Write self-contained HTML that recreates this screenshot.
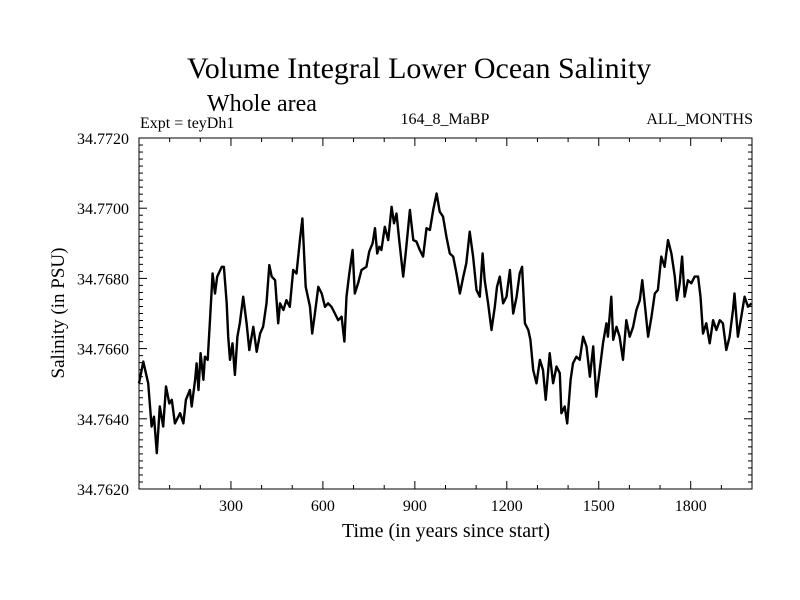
<!DOCTYPE html>
<html><head><meta charset="utf-8"><style>
html,body{margin:0;padding:0;background:#fff;}
svg{display:block;font-family:"Liberation Serif",serif;}
</style></head><body>
<svg id="chart" width="800" height="600" viewBox="0 0 800 600" xmlns="http://www.w3.org/2000/svg">
<rect width="800" height="600" fill="#fff"/>
<text x="187" y="78" font-size="30">Volume Integral Lower Ocean Salinity</text>
<text x="207" y="111" font-size="24">Whole area</text>
<text x="140" y="128" font-size="16">Expt = teyDh1</text>
<text x="445" y="124" font-size="16" text-anchor="middle">164_8_MaBP</text>
<text x="753" y="124" font-size="16" text-anchor="end">ALL_MONTHS</text>
<text transform="translate(64,313) rotate(-90)" font-size="19" text-anchor="middle">Salinity (in PSU)</text>
<text x="446" y="537" font-size="20" text-anchor="middle">Time (in years since start)</text>
<g id="axes"></g>
<g id="plot"></g>
</svg>
<script>
const years = [0,14,25,30,41,49,58,68,79,88,99,107,117,134,145,153,166,172,183,188,194,201,210,215,224,231,240,248,255,270,277,286,291,297,305,313,321,329,340,351,360,373,384,395,405,416,425,433,444,454,460,471,481,492,503,514,525,533,538,544,558,565,574,585,596,607,617,628,639,650,661,670,677,686,697,704,715,726,742,751,762,770,777,784,791,802,813,824,832,840,849,862,871,884,895,905,916,927,938,949,960,971,981,992,1003,1014,1025,1036,1047,1058,1068,1079,1090,1101,1112,1121,1128,1139,1150,1161,1168,1177,1188,1199,1210,1221,1232,1242,1250,1259,1270,1277,1286,1297,1308,1318,1327,1340,1351,1362,1373,1378,1389,1397,1408,1416,1427,1438,1449,1460,1471,1482,1492,1503,1514,1525,1530,1541,1547,1558,1568,1579,1590,1601,1612,1623,1634,1642,1650,1661,1672,1683,1693,1704,1715,1726,1737,1748,1755,1764,1772,1780,1791,1802,1813,1824,1832,1840,1851,1862,1873,1884,1895,1905,1916,1927,1938,1943,1954,1965,1976,1987,1998];
const salinity = [34.76501,34.76563,34.76520,34.76501,34.76378,34.76406,34.76302,34.76435,34.76378,34.76492,34.76444,34.76454,34.76387,34.76416,34.76387,34.76454,34.76482,34.76435,34.76511,34.76558,34.76482,34.76587,34.76511,34.76577,34.76568,34.76672,34.76814,34.76757,34.76805,34.76833,34.76833,34.76729,34.76634,34.76568,34.76615,34.76525,34.76634,34.76672,34.76748,34.76672,34.76596,34.76662,34.76591,34.76643,34.76662,34.76729,34.76838,34.76805,34.76795,34.76672,34.76729,34.76710,34.76738,34.76719,34.76824,34.76814,34.76909,34.76971,34.76881,34.76776,34.76719,34.76643,34.76700,34.76776,34.76757,34.76719,34.76729,34.76719,34.76700,34.76681,34.76691,34.76620,34.76748,34.76814,34.76881,34.76757,34.76786,34.76824,34.76833,34.76876,34.76900,34.76943,34.76871,34.76890,34.76881,34.76947,34.76909,34.77004,34.76957,34.76985,34.76909,34.76805,34.76881,34.76995,34.76909,34.76905,34.76881,34.76862,34.76943,34.76938,34.76995,34.77042,34.76990,34.76976,34.76919,34.76871,34.76862,34.76814,34.76757,34.76805,34.76843,34.76933,34.76862,34.76767,34.76748,34.76871,34.76795,34.76729,34.76653,34.76719,34.76776,34.76805,34.76729,34.76748,34.76824,34.76700,34.76748,34.76814,34.76833,34.76672,34.76653,34.76625,34.76539,34.76501,34.76568,34.76539,34.76454,34.76587,34.76501,34.76549,34.76530,34.76416,34.76435,34.76387,34.76511,34.76558,34.76577,34.76568,34.76634,34.76606,34.76520,34.76606,34.76463,34.76539,34.76615,34.76672,34.76634,34.76748,34.76625,34.76662,34.76634,34.76568,34.76681,34.76634,34.76662,34.76710,34.76738,34.76795,34.76729,34.76634,34.76691,34.76757,34.76767,34.76862,34.76833,34.76909,34.76871,34.76805,34.76738,34.76786,34.76862,34.76748,34.76795,34.76786,34.76805,34.76805,34.76748,34.76643,34.76672,34.76615,34.76681,34.76653,34.76681,34.76672,34.76596,34.76634,34.76710,34.76757,34.76634,34.76691,34.76748,34.76719,34.76729];
const xTicks = [300,600,900,1200,1500,1800];
const yTicks = [34.762,34.764,34.766,34.768,34.770,34.772];
const yTickLabels = ["34.7620","34.7640","34.7660","34.7680","34.7700","34.7720"];

const NS="http://www.w3.org/2000/svg";
const L=139,R=752,T=138,B=489;
const X0=0,X1=2000,Y0=34.762,Y1=34.772;
function xs(v){return L+(v-X0)/(X1-X0)*(R-L);}
function ys(v){return B-(v-Y0)/(Y1-Y0)*(B-T);}
function mk(tag,attrs,parent){const e=document.createElementNS(NS,tag);for(const k in attrs)e.setAttribute(k,attrs[k]);parent.appendChild(e);return e;}
const axes=document.getElementById('axes');
const plot=document.getElementById('plot');
const frame=mk('rect',{x:L,y:T,width:R-L,height:B-T,fill:'none',stroke:'#000','stroke-width':1},axes);


for(let v=100;v<X1;v+=100){
  const major=xTicks.includes(v);
  const len=major?8:4;
  const t1=mk('line',{x1:xs(v),x2:xs(v),y1:B,y2:B-len,stroke:'#000'},axes);
  
  
  const t2=mk('line',{x1:xs(v),x2:xs(v),y1:T,y2:T+len,stroke:'#000'},axes);
  
  
}
xTicks.forEach(v=>{
  const t=mk('text',{x:xs(v),y:511,'font-size':16,'text-anchor':'middle'},axes);
  t.textContent=String(v);
  
  
});
for(let i=1;i<50;i++){
  const v=Y0+i*0.0002;
  const major=(i%10===0);
  const len=major?8:4;
  const t1=mk('line',{x1:L,x2:L+len,y1:ys(v),y2:ys(v),stroke:'#000'},axes);
  
  
  const t2=mk('line',{x1:R,x2:R-len,y1:ys(v),y2:ys(v),stroke:'#000'},axes);
  
  
}
yTicks.forEach((v,i)=>{
  const t=mk('text',{x:129,y:ys(v)+6,'font-size':16,'text-anchor':'end'},axes);
  t.textContent=yTickLabels[i];
  
  
});
let d='';
years.forEach((yr,i)=>{d+=(i?'L':'M')+xs(yr).toFixed(1)+' '+ys(salinity[i]).toFixed(1);});
const line=mk('path',{d:d,fill:'none',stroke:'#000','stroke-width':2.4,'stroke-linejoin':'round'},plot);


</script>
</body></html>
